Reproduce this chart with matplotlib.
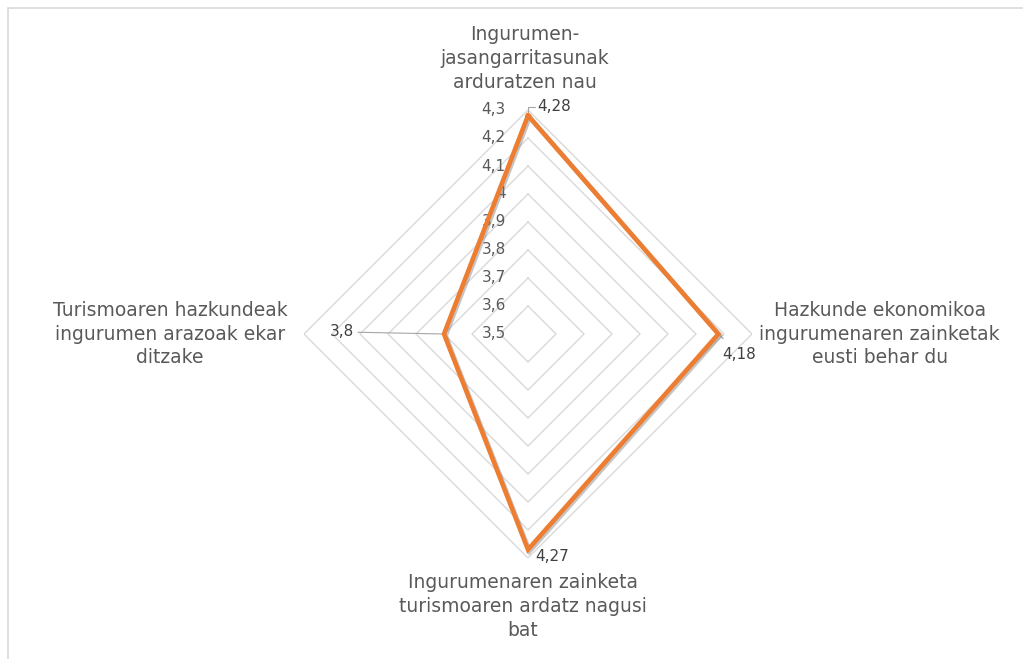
import numpy as np
import matplotlib
matplotlib.use("Agg")
import matplotlib.pyplot as plt
import matplotlib.patheffects as pe
from matplotlib.patches import Rectangle

categories = [
    "Ingurumen-\njasangarritasunak\narduratzen nau",
    "Hazkunde ekonomikoa\ningurumenaren zainketak\neusti behar du",
    "Ingurumenaren zainketa\nturismoaren ardatz nagusi\nbat",
    "Turismoaren hazkundeak\ningurumen arazoak ekar\nditzake",
]
values = [4.28, 4.18, 4.27, 3.8]
value_labels = ["4,28", "4,18", "4,27", "3,8"]
ticks = [3.5, 3.6, 3.7, 3.8, 3.9, 4.0, 4.1, 4.2, 4.3]
tick_labels = ["3,5", "3,6", "3,7", "3,8", "3,9", "4", "4,1", "4,2", "4,3"]

W, H = 1023, 659
fig = plt.figure(figsize=(W / 100, H / 100), dpi=100)
fig.patch.set_facecolor("white")

# chart border (top and left visible)
fig.patches.append(Rectangle((8 / W, -0.1), 1.2, (H - 8) / H + 0.1,
                             transform=fig.transFigure, fill=False,
                             edgecolor="#D9D9D9", linewidth=1.2))

cx, cy, R = 528, 334, 224
ax = fig.add_axes([(cx - R) / W, (H - cy - R) / H, 2 * R / W, 2 * R / H],
                  projection="polar")
ax.set_theta_zero_location("N")
ax.set_theta_direction(-1)
ax.set_ylim(ticks[0], ticks[-1])
ax.grid(False)
ax.spines["polar"].set_visible(False)
ax.set_xticks([])
ax.set_yticks([])
ax.patch.set_alpha(0)

n = len(categories)
angles = np.arange(n) * 2 * np.pi / n
closed_ang = np.append(angles, angles[0])

grid_c = "#D9D9D9"
for t in ticks[1:]:
    ax.plot(closed_ang, [t] * (n + 1), color=grid_c, lw=1.0, zorder=1)

vals_closed = values + [values[0]]
ax.plot(closed_ang, vals_closed, color="#ED7D31", lw=3.3, zorder=5,
        solid_joinstyle="miter",
        path_effects=[pe.SimpleLineShadow(offset=(1.2, -1.2), shadow_color="#808080", alpha=0.45),
                      pe.Normal()])

tfs = 11
# tick labels along the vertical axis
for t, lab in zip(ticks, tick_labels):
    ax.annotate(lab, xy=(0, t), xytext=(-16, 0), textcoords="offset points",
                ha="right", va="center", fontsize=tfs, color="#595959")

# data labels with leader lines
lab_c = "#404040"
lead_c = "#A6A6A6"
# top
ax.annotate(value_labels[0], xy=(angles[0], values[0]), xytext=(7, 6.5),
            textcoords="offset points", ha="left", va="center", fontsize=tfs, color=lab_c,
            arrowprops=dict(arrowstyle="-", color=lead_c, lw=0.8,
                            connectionstyle="angle,angleA=0,angleB=90,rad=0",
                            shrinkA=0, shrinkB=2))
# right
ax.annotate(value_labels[1], xy=(angles[1], values[1]), xytext=(3, -15),
            textcoords="offset points", ha="left", va="center", fontsize=tfs, color=lab_c,
            arrowprops=dict(arrowstyle="-", color=lead_c, lw=0.8, shrinkA=6, shrinkB=0))
# bottom
ax.annotate(value_labels[2], xy=(angles[2], values[2]), xytext=(5, -5),
            textcoords="offset points", ha="left", va="center", fontsize=tfs, color=lab_c)
# left
ax.annotate(value_labels[3], xy=(angles[3], values[3]), xytext=(-65, 1.5),
            textcoords="offset points", ha="right", va="center", fontsize=tfs, color=lab_c,
            arrowprops=dict(arrowstyle="-", color=lead_c, lw=0.8, shrinkA=1, shrinkB=0))

# category labels
cat_c = "#595959"
fs = 13.5
ls = 1.32
ax.annotate(categories[0], xy=(angles[0], ticks[-1]), xytext=(-2, 37),
            textcoords="offset points", ha="center", va="center", fontsize=fs,
            color=cat_c, linespacing=ls)
ax.annotate(categories[1], xy=(angles[1], ticks[-1]), xytext=(92, 0),
            textcoords="offset points", ha="center", va="center", fontsize=fs,
            color=cat_c, linespacing=ls)
ax.annotate(categories[2], xy=(angles[2], ticks[-1]), xytext=(-3.6, -35),
            textcoords="offset points", ha="center", va="center", fontsize=fs,
            color=cat_c, linespacing=ls)
ax.annotate(categories[3], xy=(angles[3], ticks[-1]), xytext=(-96.5, 0),
            textcoords="offset points", ha="center", va="center", fontsize=fs,
            color=cat_c, linespacing=ls)

fig.savefig("out.png", dpi=100)
